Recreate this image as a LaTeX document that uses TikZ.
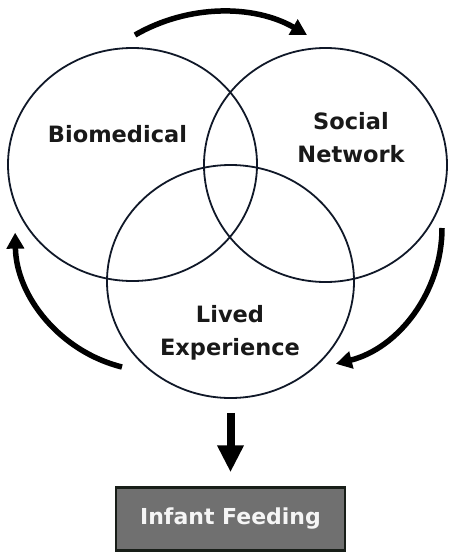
\documentclass[tikz,border=0pt]{standalone}
\usepackage{fontspec}
\setmainfont{DejaVu Sans}
\usepackage{xcolor}
\usepackage{tikz}
\usetikzlibrary{shapes.geometric, arrows.meta, positioning}

\definecolor{ringblue}{RGB}{16,24,40}
\definecolor{boxgray}{RGB}{112,112,112}
\definecolor{boxedge}{RGB}{24,30,24}

\begin{document}
\begin{tikzpicture}[
    x=1pt, y=1pt,
    ring/.style={ellipse, draw=ringblue, line width=1.8pt, inner sep=0pt},
    tag/.style={font=\bfseries\fontsize{22.5}{33}\selectfont, align=center, text=black!90},
    flow/.style={line width=5.5pt, -{Triangle[length=16pt, width=17pt]}},
    result/.style={rectangle, draw=boxedge, line width=2.5pt, fill=boxgray, minimum width=229pt, minimum height=63pt, text=white!96!black, font=\bfseries\fontsize{22}{26}\selectfont},
    bigarrow/.style={line width=8pt, -{Triangle[length=27pt, width=25pt]}}
]
\useasboundingbox (0,0) rectangle (457,-557);

% Venn circles
\node[ring, minimum width=249pt, minimum height=233pt] (bio) at (132.5,-164.5) {};
\node[ring, minimum width=243pt, minimum height=234pt] (soc) at (325.5,-165) {};
\node[ring, minimum width=247pt, minimum height=233pt] (liv) at (230.5,-281.5) {};

% Circle labels
\node[tag] (biotext) at (117.5,-134) {Biomedical};
\node[tag] (soctext) at (351,-138) {Social\\Network};
\node[tag] (livtext) at (230,-333) {Lived\\Experience};

% Outcome box
\node[result] (feed) at (230.5,-519) {Infant Feeding};

% Cycle arrows
\coordinate (topstart) at (135,-35);
\coordinate (rightstart) at (442,-228);
\coordinate (leftstart) at (122,-367);
\draw[flow] (topstart) arc[start angle=120, end angle=60, radius=172];
\draw[flow] (rightstart) arc[start angle=0, end angle=-76, radius=140];
\draw[flow] (leftstart) arc[start angle=-104, end angle=-179, radius=141];

% Down to outcome
\draw[bigarrow, shorten <=14pt, shorten >=14pt] (liv.south) -- (feed.north);

\end{tikzpicture}
\end{document}
